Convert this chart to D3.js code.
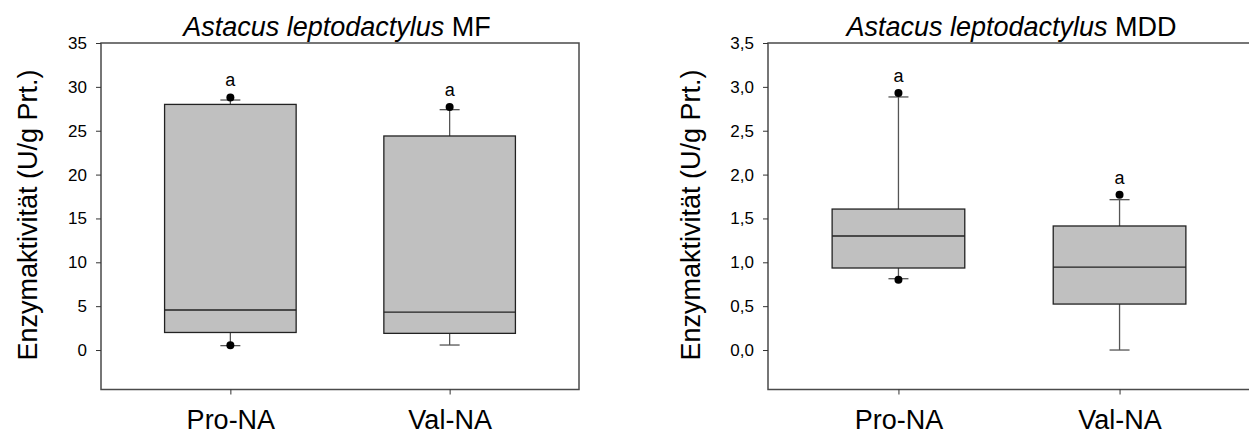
<!DOCTYPE html>
<html>
<head>
<meta charset="utf-8">
<script src="https://cdn.jsdelivr.net/npm/d3@7"></script>
<style>
  html, body { margin: 0; padding: 0; background: #fff; }
  svg { display: block; }
  text { font-family: "Liberation Sans", Arial, sans-serif; fill: #000; }
</style>
</head>
<body>
<svg id="chart" width="1249" height="435"></svg>
<script>
// Groups on the x axis
const categories = ["Pro-NA", "Val-NA"];

// Box statistics per group: whisker low, Q1, median, Q3, whisker high
const mfLow    = [0.5, 0.57];
const mfQ1     = [2.0, 1.9];
const mfMedian = [4.56, 4.33];
const mfQ3     = [28.0, 24.4];
const mfHigh   = [28.5, 27.4];
const mfOutliers = [[0.55, 28.8], [27.7]];

const mddLow    = [0.813, 0.0];
const mddQ1     = [0.935, 0.524];
const mddMedian = [1.30, 0.946];
const mddQ3     = [1.607, 1.414];
const mddHigh   = [2.885, 1.714];
const mddOutliers = [[0.80, 2.93], [1.77]];

// Significance letters above each group
const mfLetters  = ["a", "a"];
const mddLetters = ["a", "a"];

// Axis ticks
const mfTicks  = [0, 5, 10, 15, 20, 25, 30, 35];
const mddTicks = [0, 0.5, 1.0, 1.5, 2.0, 2.5, 3.0, 3.5];

const deLocale = d3.formatLocale({ decimal: ",", thousands: ".", grouping: [3], currency: ["", " €"] });

function buildRows(low, q1, med, q3, high, outliers, letters) {
  return categories.map((c, i) => ({
    cat: c, pos: i + 1, low: low[i], q1: q1[i], med: med[i], q3: q3[i], high: high[i],
    outliers: outliers[i], letter: letters[i]
  }));
}

const svg = d3.select("#chart");

function drawPanel(opt) {
  const g = svg.append("g");
  const x = d3.scaleLinear().domain([0.41, 2.59]).range(opt.xRange);
  const y = d3.scaleLinear().domain(opt.yDomain).range([389.5, 43]);
  const [x0, x1] = opt.xRange;
  const boxW = x(1.6) - x(1.0);
  const capW = 20;

  // Plot frame
  g.append("rect")
    .attr("x", x0).attr("y", 43)
    .attr("width", x1 - x0).attr("height", 389.5 - 43)
    .attr("fill", "none").attr("stroke", "#4a4a4a").attr("stroke-width", 1.5);

  // Y axis
  const yAxis = d3.axisLeft(y).tickValues(opt.ticks).tickSize(5).tickPadding(9)
    .tickFormat(opt.fmt);
  const ya = g.append("g").attr("transform", `translate(${x0},0)`).call(yAxis);
  ya.select(".domain").remove();
  ya.selectAll(".tick line").attr("stroke", "#333");
  ya.selectAll(".tick text").attr("font-size", 17).attr("fill", "#000")
    .attr("font-family", "'Liberation Sans', Arial, sans-serif");

  // X axis
  const xAxis = d3.axisBottom(x).tickValues([1, 2]).tickSize(5).tickPadding(15)
    .tickFormat(d => categories[d - 1]);
  const xa = g.append("g").attr("transform", "translate(0,389.5)").call(xAxis);
  xa.select(".domain").remove();
  xa.selectAll(".tick line").attr("stroke", "#333");
  xa.selectAll(".tick text").attr("font-size", 27).attr("fill", "#000")
    .attr("font-family", "'Liberation Sans', Arial, sans-serif");

  const boxes = g.selectAll(".box").data(opt.rows).join("g").attr("class", "box");

  // Whiskers
  boxes.append("line")
    .attr("x1", d => x(d.pos)).attr("x2", d => x(d.pos))
    .attr("y1", d => y(d.q3)).attr("y2", d => y(d.high))
    .attr("stroke", "#555").attr("stroke-width", 1.3);
  boxes.append("line")
    .attr("x1", d => x(d.pos)).attr("x2", d => x(d.pos))
    .attr("y1", d => y(d.q1)).attr("y2", d => y(d.low))
    .attr("stroke", "#555").attr("stroke-width", 1.3);
  boxes.append("line")
    .attr("x1", d => x(d.pos) - capW / 2).attr("x2", d => x(d.pos) + capW / 2)
    .attr("y1", d => y(d.high)).attr("y2", d => y(d.high))
    .attr("stroke", "#555").attr("stroke-width", 1.3);
  boxes.append("line")
    .attr("x1", d => x(d.pos) - capW / 2).attr("x2", d => x(d.pos) + capW / 2)
    .attr("y1", d => y(d.low)).attr("y2", d => y(d.low))
    .attr("stroke", "#555").attr("stroke-width", 1.3);

  // Interquartile box
  boxes.append("rect")
    .attr("x", d => x(d.pos) - boxW / 2).attr("width", boxW)
    .attr("y", d => y(d.q3)).attr("height", d => y(d.q1) - y(d.q3))
    .attr("fill", "#c0c0c0").attr("stroke", "#222").attr("stroke-width", 1.3);

  // Median
  boxes.append("line")
    .attr("x1", d => x(d.pos) - boxW / 2).attr("x2", d => x(d.pos) + boxW / 2)
    .attr("y1", d => y(d.med)).attr("y2", d => y(d.med))
    .attr("stroke", "#222").attr("stroke-width", 1.3);

  // Outlying points
  boxes.selectAll("circle").data(d => d.outliers.map(v => ({ pos: d.pos, v })))
    .join("circle")
    .attr("cx", d => x(d.pos)).attr("cy", d => y(d.v)).attr("r", 4)
    .attr("fill", "#000");

  // Letters above the highest value
  boxes.append("text")
    .attr("x", d => x(d.pos))
    .attr("y", d => y(d3.max([d.high, ...d.outliers])) - 11)
    .attr("text-anchor", "middle").attr("font-size", 18)
    .text(d => d.letter);

  // Title
  const title = g.append("text")
    .attr("x", (x0 + Math.min(x1, 1249)) / 2 - opt.titleShift).attr("y", 36)
    .attr("text-anchor", "middle").attr("font-size", 27);
  title.append("tspan").attr("font-style", "italic").text("Astacus leptodactylus");
  title.append("tspan").text(" " + opt.suffix);

  // Y axis title
  g.append("text")
    .attr("transform", `translate(${opt.yLabelX},215) rotate(-90)`)
    .attr("text-anchor", "middle").attr("font-size", 27)
    .text("Enzymaktivität (U/g Prt.)");
}

drawPanel({
  xRange: [101, 579],
  yDomain: [-4.5, 35],
  ticks: mfTicks,
  fmt: d3.format("d"),
  rows: buildRows(mfLow, mfQ1, mfMedian, mfQ3, mfHigh, mfOutliers, mfLetters),
  suffix: "MF",
  titleShift: 3,
  yLabelX: 37
});

drawPanel({
  xRange: [768, 1250],
  yDomain: [-0.45, 3.5],
  ticks: mddTicks,
  fmt: deLocale.format(".1f"),
  rows: buildRows(mddLow, mddQ1, mddMedian, mddQ3, mddHigh, mddOutliers, mddLetters),
  suffix: "MDD",
  titleShift: -3,
  yLabelX: 700
});
</script>
</body>
</html>
